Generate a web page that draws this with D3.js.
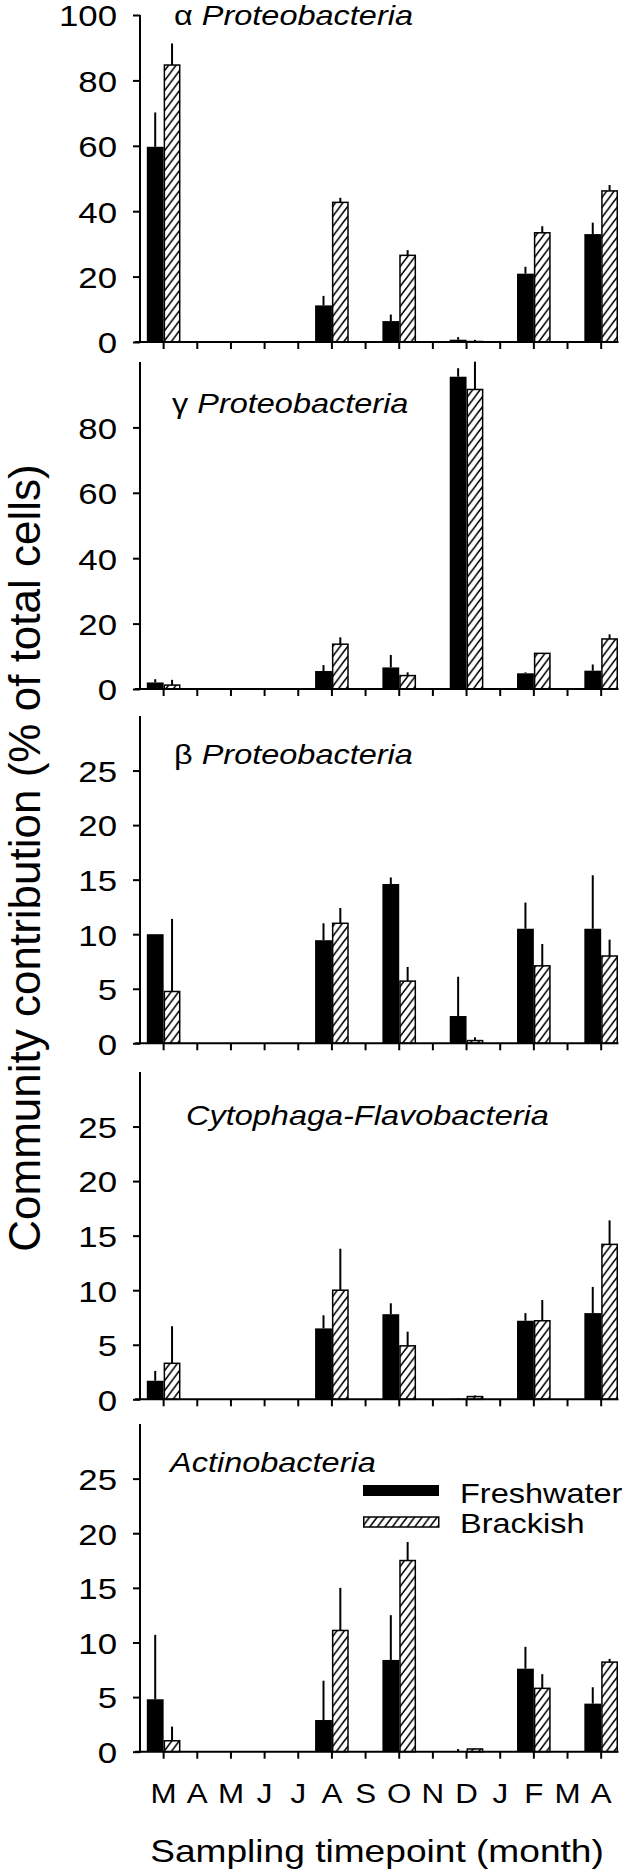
<!DOCTYPE html>
<html><head><meta charset="utf-8">
<script src="https://cdn.jsdelivr.net/npm/d3@7"></script>
<style>
html,body{margin:0;padding:0;background:#fff;}
svg{display:block;}
text{font-family:"Liberation Sans",Arial,Helvetica,sans-serif;fill:#000;}
</style></head>
<body><svg id="chart" width="625" height="1873"></svg>
<script>
// ---------- DATA ----------
const months = ["M","A","M","J","J","A","S","O","N","D","J","F","M","A"];
const seriesNames = ["Freshwater","Brackish"];
const panelTitles = [["α ","Proteobacteria"],["γ ","Proteobacteria"],["β ","Proteobacteria"],["","Cytophaga-Flavobacteria"],["","Actinobacteria"]];
const ticksAlpha = [0,20,40,60,80,100];
const ticksGamma = [0,20,40,60,80];
const ticksSmall = [0,5,10,15,20,25];

// values per month index (null = not sampled)
const alphaFresh    = [59.7,null,null,null,null,11.2,null,6.4,null,0.7,null,20.9,null,33.0];
const alphaFreshErr = [10.5,null,null,null,null,2.9,null,2.0,null,0.8,null,2.1,null,3.5];
const alphaBrack    = [84.7,null,null,null,null,42.7,null,26.5,null,0.15,null,33.4,null,46.2];
const alphaBrackErr = [6.6,null,null,null,null,1.4,null,1.6,null,0.5,null,2.0,null,1.8];

const gammaFresh    = [2.0,null,null,null,null,5.5,null,6.6,null,95.5,null,4.8,null,5.6];
const gammaFreshErr = [1.0,null,null,null,null,1.8,null,3.8,null,2.6,null,0.3,null,1.9];
const gammaBrack    = [1.2,null,null,null,null,13.7,null,4.1,null,91.6,null,10.9,null,15.3];
const gammaBrackErr = [1.6,null,null,null,null,2.1,null,1.0,null,8.5,null,0,null,1.4];

const betaFresh     = [10.0,null,null,null,null,9.45,null,14.6,null,2.5,null,10.5,null,10.5];
const betaFreshErr  = [0,null,null,null,null,1.55,null,0.6,null,3.6,null,2.4,null,4.9];
const betaBrack     = [4.75,null,null,null,null,11.0,null,5.7,null,0.25,null,7.1,null,8.0];
const betaBrackErr  = [6.65,null,null,null,null,1.4,null,1.3,null,0.3,null,2.0,null,1.5];

const cfFresh       = [1.7,null,null,null,null,6.5,null,7.8,null,0.05,null,7.2,null,7.9];
const cfFreshErr    = [0.9,null,null,null,null,1.2,null,1.0,null,0.05,null,0.7,null,2.4];
const cfBrack       = [3.3,null,null,null,null,10.0,null,4.9,null,0.25,null,7.2,null,14.2];
const cfBrackErr    = [3.4,null,null,null,null,3.8,null,1.3,null,0.1,null,1.9,null,2.2];

const actFresh      = [4.8,null,null,null,null,2.9,null,8.4,null,0.05,null,7.6,null,4.4];
const actFreshErr   = [5.9,null,null,null,null,3.6,null,4.1,null,0.2,null,2.0,null,1.5];
const actBrack      = [1.0,null,null,null,null,11.1,null,17.5,null,0.25,null,5.8,null,8.2];
const actBrackErr   = [1.3,null,null,null,null,3.9,null,1.7,null,0.05,null,1.3,null,0.3];

const yLabel = "Community contribution (% of total cells)";
const xLabel = "Sampling timepoint (month)";

// ---------- LAYOUT ----------
const SX = 1.16; // horizontal text stretch of the original figure
const axisX = 140, axisRight = 618.5, axisLeftEnd = 135;
const panels = [
  {title: panelTitles[0], max:100, ticks:ticksAlpha, top:15,   zero:342,   f:alphaFresh, fe:alphaFreshErr, b:alphaBrack, be:alphaBrackErr, tx:174, ty:25},
  {title: panelTitles[1], max:100, ticks:ticksGamma, top:362,  zero:689,   f:gammaFresh, fe:gammaFreshErr, b:gammaBrack, be:gammaBrackErr, tx:172, ty:413},
  {title: panelTitles[2], max:30,  ticks:ticksSmall, top:716,  zero:1043.3,f:betaFresh,  fe:betaFreshErr,  b:betaBrack,  be:betaBrackErr,  tx:174, ty:764},
  {title: panelTitles[3], max:30,  ticks:ticksSmall, top:1072, zero:1399.3,f:cfFresh,    fe:cfFreshErr,    b:cfBrack,    be:cfBrackErr,    tx:186, ty:1125},
  {title: panelTitles[4], max:30,  ticks:ticksSmall, top:1424, zero:1751.7,f:actFresh,   fe:actFreshErr,   b:actBrack,   be:actBrackErr,   tx:170, ty:1472}
];

const svg = d3.select("#chart");
const defs = svg.append("defs");
const pat = defs.append("pattern").attr("id","hatch").attr("patternUnits","userSpaceOnUse")
  .attr("width",7.5).attr("height",10);
pat.append("rect").attr("width",7.5).attr("height",10).attr("fill","#fff");
pat.append("path").attr("d","M-1.5,12 L9,-2 M-9,12 L1.5,-2 M6,12 L16.5,-2")
  .attr("stroke","#000").attr("stroke-width",1.6).attr("fill","none");

const x = d3.scaleBand().domain(d3.range(months.length)).range([146.8, 618]).padding(0);
const bw = x.bandwidth();

panels.forEach((p, pi) => {
  const y = d3.scaleLinear().domain([0, p.max]).range([p.zero, p.top]);
  const g = svg.append("g");

  const idx = d3.range(months.length).filter(i => p.f[i] !== null);
  idx.forEach(i => {
    const x0 = x(i);
    g.append("line").attr("x1", x0 + bw/4).attr("x2", x0 + bw/4)
      .attr("y1", y(p.f[i])).attr("y2", y(p.f[i] + p.fe[i]))
      .attr("stroke","#000").attr("stroke-width",2);
    g.append("line").attr("x1", x0 + 3*bw/4).attr("x2", x0 + 3*bw/4)
      .attr("y1", y(p.b[i])).attr("y2", y(p.b[i] + p.be[i]))
      .attr("stroke","#000").attr("stroke-width",2);
    g.append("rect").attr("x", x0).attr("width", bw/2)
      .attr("y", y(p.f[i])).attr("height", y(0) - y(p.f[i])).attr("fill","#000");
    g.append("rect").attr("x", x0 + bw/2 + 0.75).attr("width", bw/2 - 1.5)
      .attr("y", y(p.b[i])).attr("height", Math.max(0, y(0) - y(p.b[i])))
      .attr("fill","url(#hatch)").attr("stroke","#000").attr("stroke-width",1.5);
  });

  const xa = svg.append("g").attr("transform", `translate(0,${p.zero})`)
    .call(d3.axisBottom(x).tickSize(7).tickSizeOuter(0).tickFormat(i => pi === 4 ? months[i] : ""));
  xa.select(".domain").remove();
  xa.selectAll(".tick line").attr("stroke","#000").attr("stroke-width",2);
  xa.selectAll(".tick text").attr("font-size",27).attr("font-family",null)
    .attr("y",null).attr("dy",null)
    .attr("transform", `translate(0,${1803 - p.zero}) scale(${SX},1)`);
  svg.append("line").attr("x1",axisLeftEnd).attr("x2",axisRight).attr("y1",p.zero).attr("y2",p.zero)
    .attr("stroke","#000").attr("stroke-width",2);

  const ya = svg.append("g").attr("transform", `translate(${axisX},0)`)
    .call(d3.axisLeft(y).tickValues(p.ticks).tickSize(7).tickSizeOuter(0).tickFormat(d3.format("d")));
  ya.select(".domain").remove();
  ya.selectAll(".tick line").attr("stroke","#000").attr("stroke-width",2);
  ya.selectAll(".tick text").attr("font-size",30).attr("font-family",null)
    .attr("x",null).attr("dy","0.36em")
    .attr("transform", `translate(-23,0) scale(${SX},1)`);
  svg.append("line").attr("x1",axisX).attr("x2",axisX).attr("y1",p.top).attr("y2",p.zero + 1)
    .attr("stroke","#000").attr("stroke-width",2);

  const t = svg.append("text").attr("font-size",28)
    .attr("transform", `translate(${p.tx},${p.ty}) scale(${SX},1)`);
  if (p.title[0]) t.append("tspan").text(p.title[0]);
  t.append("tspan").attr("font-style","italic").text(p.title[1]);
});

// legend
const lg = svg.append("g");
lg.append("rect").attr("x",363).attr("y",1485).attr("width",76).attr("height",11).attr("fill","#000");
lg.append("rect").attr("x",363.75).attr("y",1517).attr("width",75).attr("height",10)
  .attr("fill","url(#hatch)").attr("stroke","#000").attr("stroke-width",1.5);
lg.append("text").attr("font-size",28).attr("transform",`translate(460,1503) scale(${SX},1)`).text(seriesNames[0]);
lg.append("text").attr("font-size",28).attr("transform",`translate(460,1533) scale(${SX},1)`).text(seriesNames[1]);

// axis titles
svg.append("text").attr("font-size",32).attr("text-anchor","middle")
  .attr("transform",`translate(377,1862) scale(${SX},1)`).text(xLabel);
svg.append("text").attr("font-size",44).attr("text-anchor","middle")
  .attr("transform",`translate(40,858) rotate(-90)`).text(yLabel);
</script></body></html>
